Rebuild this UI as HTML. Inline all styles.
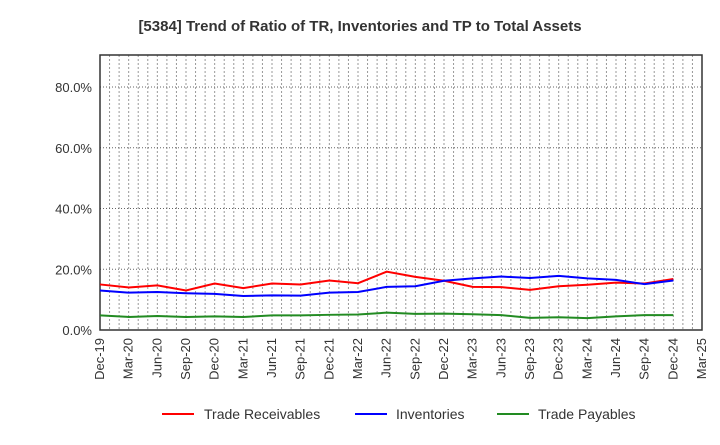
<!DOCTYPE html>
<html><head><meta charset="utf-8"><style>
body{margin:0;background:#fff;font-family:"Liberation Sans",sans-serif}
</style></head><body>
<svg id="c" width="720" height="440" xmlns="http://www.w3.org/2000/svg">
<text x="360" y="31" text-anchor="middle" font-size="15" font-weight="bold" fill="#333">[5384]  Trend of Ratio of TR, Inventories and TP to Total Assets</text>
<g id="grid"></g><g id="axes"></g><g id="series"></g>
<g>
<line x1="162" y1="414" x2="194" y2="414" stroke="#f00" stroke-width="2"/><text x="204" y="419" font-size="14" fill="#333">Trade Receivables</text>
<line x1="355" y1="414" x2="387" y2="414" stroke="#00f" stroke-width="2"/><text x="396" y="419" font-size="14" fill="#333">Inventories</text>
<line x1="497" y1="414" x2="529" y2="414" stroke="#228b22" stroke-width="2"/><text x="538" y="419" font-size="14" fill="#333">Trade Payables</text>
</g>
</svg>
<script>
const xLabels=["Dec-19","Mar-20","Jun-20","Sep-20","Dec-20","Mar-21","Jun-21","Sep-21","Dec-21","Mar-22","Jun-22","Sep-22","Dec-22","Mar-23","Jun-23","Sep-23","Dec-23","Mar-24","Jun-24","Sep-24","Dec-24","Mar-25"];
const yTicks=[0,20,40,60,80];
const tradeReceivables=[15.0,14.0,14.7,13.0,15.3,13.8,15.3,15.0,16.3,15.4,19.2,17.5,16.2,14.2,14.1,13.2,14.4,14.9,15.6,15.3,16.8];
const inventories=[13.0,12.3,12.5,12.1,11.9,11.2,11.4,11.3,12.3,12.5,14.2,14.4,16.2,17.0,17.6,17.1,17.8,17.0,16.5,15.1,16.3];
const tradePayables=[4.8,4.3,4.6,4.3,4.5,4.3,4.8,4.8,5.0,5.1,5.7,5.3,5.4,5.2,4.9,4.0,4.2,3.9,4.5,4.9,4.9];
const L=100,R=702,T=55,B=330,NS="http://www.w3.org/2000/svg";
const xs=i=>L+i*(R-L)/(xLabels.length-1);
const ys=v=>B-v*(B-87)/80;
function mk(p,t,a){const e=document.createElementNS(NS,t);for(const k in a)e.setAttribute(k,a[k]);document.getElementById(p).appendChild(e);return e;}
for(let m=1;m<(xLabels.length-1)*3;m++){
 const x=xs(m/3);
 const g=mk('grid','line',{x1:x,x2:x,y1:T,y2:B,stroke:'#999','stroke-dasharray':'2,2','stroke-width':1});
 
 
}
xLabels.forEach((l,i)=>{
 const t=mk('axes','text',{x:0,y:0,'font-size':13,fill:'#333','text-anchor':'end',transform:`translate(${xs(i)+4},${B+8}) rotate(-90)`});
 t.textContent=l;
 
 
});
yTicks.forEach(v=>{
 const g=mk('grid','line',{x1:L,x2:R,y1:ys(v),y2:ys(v),stroke:'#666','stroke-dasharray':'1,2'});
 
 
 const t=mk('axes','text',{x:L-8,y:ys(v)+5,'font-size':13,fill:'#333','text-anchor':'end'});
 t.textContent=v.toFixed(1)+'%';
 
 
});
const fr=mk('axes','rect',{x:L,y:T,width:R-L,height:B-T,fill:'none',stroke:'#333','stroke-width':1.5});


[[tradeReceivables,'#f00','trade-receivables-line'],[inventories,'#00f','inventories-line'],[tradePayables,'#228b22','trade-payables-line']].forEach(([d,c,n])=>{
 const p=mk('series','polyline',{points:d.map((v,i)=>xs(i)+','+ys(v)).join(' '),fill:'none',stroke:c,'stroke-width':2});
 
 
});
</script>
</body></html>
